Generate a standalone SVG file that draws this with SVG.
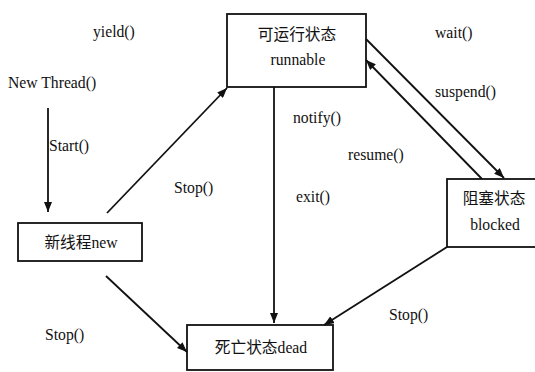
<svg xmlns="http://www.w3.org/2000/svg" width="535" height="372" viewBox="0 0 535 372">
  <style>
    .box { fill: #ffffff; stroke: #111111; stroke-width: 1.8; }
    .edge { fill: none; stroke: #111111; stroke-width: 1.8; marker-end: url(#arrow); }
    .lbl { font-family: "Liberation Serif", "Noto Sans CJK SC", serif; font-size: 15.7px; fill: #111111; }
    .name { font-family: "Liberation Serif", "Noto Sans CJK SC", serif; font-size: 15.7px; fill: #111111; text-anchor: middle; }
  </style>
  <defs>
    <marker id="arrow" viewBox="0 0 10 8" refX="10" refY="4" markerWidth="10" markerHeight="8" markerUnits="userSpaceOnUse" orient="auto">
      <path d="M0,0 L10,4 L0,8 Z" fill="#111111"/>
    </marker>
  </defs>
  <rect width="535" height="372" fill="#ffffff"/>

  <!-- state boxes -->
  <g id="runnable">
    <rect class="box" x="227" y="14" width="139" height="73"/>
    <text class="name" x="297" y="40" font-size="16">可运行状态</text>
    <text class="name" x="298" y="65">runnable</text>
  </g>

  <g id="blocked">
    <rect class="box" x="447" y="179" width="95" height="68"/>
    <text class="name" x="494" y="204" font-size="15">阻塞状态</text>
    <text class="name" x="495" y="230">blocked</text>
  </g>

  <g id="new">
    <rect class="box" x="18" y="223" width="124" height="38"/>
    <text class="name" x="81" y="248">新线程new</text>
  </g>

  <g id="dead">
    <rect class="box" x="187" y="325" width="146" height="45"/>
    <text class="name" x="261" y="353">死亡状态dead</text>
  </g>

  <!-- transitions -->
  <g id="connectors">
    <line class="edge" x1="48" y1="108" x2="48" y2="212"/>
    <line class="edge" x1="107" y1="213" x2="227" y2="88"/>
    <line class="edge" x1="106" y1="276" x2="187" y2="352"/>
    <line class="edge" x1="274" y1="87" x2="274" y2="323"/>
    <line class="edge" x1="366" y1="39" x2="504" y2="178"/>
    <line class="edge" x1="482" y1="179" x2="366" y2="60"/>
    <line class="edge" x1="447" y1="247" x2="324" y2="325"/>
  </g>

  <!-- method labels -->
  <g id="labels">
    <text class="lbl" x="93" y="37">yield()</text>
    <text class="lbl" x="8" y="88">New Thread()</text>
    <text class="lbl" x="49" y="151">Start()</text>
    <text class="lbl" x="174" y="193">Stop()</text>
    <text class="lbl" x="435" y="38">wait()</text>
    <text class="lbl" x="435" y="97">suspend()</text>
    <text class="lbl" x="293" y="123">notify()</text>
    <text class="lbl" x="348" y="160">resume()</text>
    <text class="lbl" x="296" y="202">exit()</text>
    <text class="lbl" x="389" y="320">Stop()</text>
    <text class="lbl" x="45" y="340">Stop()</text>
  </g>
</svg>
